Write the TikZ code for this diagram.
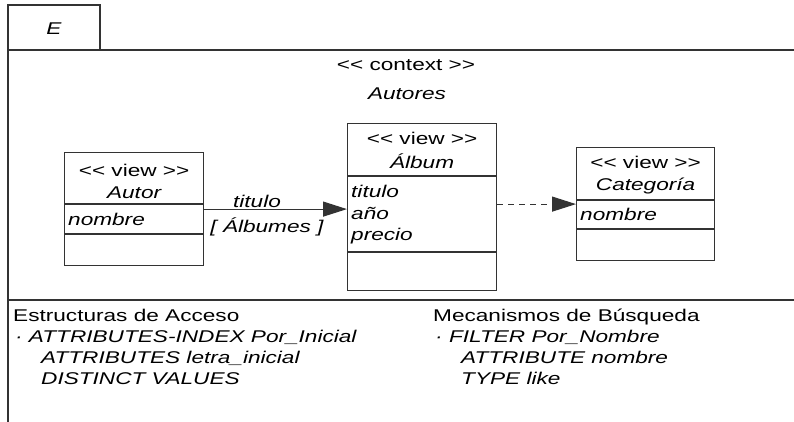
\documentclass[tikz,border=0pt]{standalone}
\usepackage{fontspec}
\usetikzlibrary{arrows.meta}
\newfontfamily\umlfont[FakeStretch=1.33,Ligatures=TeXOff]{Liberation Sans}

\tikzset{
  frame/.style={draw=black!80, line width=1.2pt},
  umlbox/.style={frame, anchor=north west, inner sep=0pt},
  txt/.style={inner sep=0pt, font=\umlfont\fontsize{17}{21}\selectfont},
  itxt/.style={inner sep=0pt, font=\umlfont\fontsize{17}{21}\selectfont\itshape},
  assoc/.style={frame, -{Triangle[length=24pt, width=15pt]}},
  depend/.style={assoc, dash pattern=on 6pt off 5pt},
}

\begin{document}
\begin{tikzpicture}[x=1pt, y=-1pt]
  \useasboundingbox (0,0) rectangle (794,422);
  % frame and tab
  \draw[frame] (8,422) -- (8,5) -- (100,5) -- (100,50);
  \draw[frame] (8,50) -- (794,50);
  \draw[frame] (8,300) -- (794,300);
  \node[itxt] (tabname) at (54,29) {E};
  \node[txt, anchor=base] (ctxst) at (406,71) {<< context >>};
  \node[itxt, anchor=base] (ctxname) at (407,100) {Autores};

  % views
  \node[umlbox, minimum width=139pt, minimum height=113pt] (autor) at (64,152) {};
  \node[umlbox, minimum width=149pt, minimum height=167pt] (album) at (347,123) {};
  \node[umlbox, minimum width=138pt, minimum height=113pt] (categoria) at (576,147) {};

  \draw[frame] ([yshift=-52pt]autor.north west) -- ([yshift=-52pt]autor.north east);
  \draw[frame] ([yshift=-82pt]autor.north west) -- ([yshift=-82pt]autor.north east);
  \draw[frame] ([yshift=-53pt]album.north west) -- ([yshift=-53pt]album.north east);
  \draw[frame] ([yshift=-129pt]album.north west) -- ([yshift=-129pt]album.north east);
  \draw[frame] ([yshift=-53pt]categoria.north west) -- ([yshift=-53pt]categoria.north east);
  \draw[frame] ([yshift=-82pt]categoria.north west) -- ([yshift=-82pt]categoria.north east);

  \node[txt, anchor=base] (autorst) at ([yshift=-24pt]autor.north) {<< view >>};
  \node[itxt, anchor=base] (autorname) at ([yshift=-46pt]autor.north) {Autor};
  \node[itxt, anchor=base west] (autorattr) at ([xshift=4pt, yshift=-73pt]autor.north west) {nombre};

  \node[txt, anchor=base] (albumst) at ([yshift=-22pt]album.north) {<< view >>};
  \node[itxt, anchor=base] (albumname) at ([yshift=-45pt]album.north) {Álbum};
  \node[itxt, anchor=base west] (albumtitulo) at ([xshift=4pt, yshift=-74pt]album.north west) {titulo};
  \node[itxt, anchor=base west] (albumano) at ([xshift=4pt, yshift=-96pt]album.north west) {año};
  \node[itxt, anchor=base west] (albumprecio) at ([xshift=4pt, yshift=-117pt]album.north west) {precio};

  \node[txt, anchor=base] (categoriast) at ([yshift=-21pt]categoria.north) {<< view >>};
  \node[itxt, anchor=base] (categorianame) at ([yshift=-43pt]categoria.north) {Categoría};
  \node[itxt, anchor=base west] (categoriaattr) at ([xshift=4pt, yshift=-73pt]categoria.north west) {nombre};

  % links
  \draw[assoc] (autor.east) -- (autor.east -| album.west);
  \node[itxt, anchor=base] (linkname) at (257,207) {titulo};
  \node[itxt, anchor=base] (linktarget) at (267,232) {[ Álbumes ]};
  \draw[depend] (album.east |- categoria.west) -- (categoria.west);

  % access structures and search mechanisms
  \node[txt, anchor=base west] (acchead) at (13,321) {Estructuras de Acceso};
  \node[itxt, anchor=base west] (acc1) at (15,342) {· ATTRIBUTES-INDEX Por\_Inicial};
  \node[itxt, anchor=base west] (acc2) at (41,363) {ATTRIBUTES letra\_inicial};
  \node[itxt, anchor=base west] (acc3) at (41,384) {DISTINCT VALUES};
  \node[txt, anchor=base west] (srchhead) at (433,321) {Mecanismos de Búsqueda};
  \node[itxt, anchor=base west] (srch1) at (435,342) {· FILTER Por\_Nombre};
  \node[itxt, anchor=base west] (srch2) at (461,363) {ATTRIBUTE nombre};
  \node[itxt, anchor=base west] (srch3) at (461,384) {TYPE like};
\end{tikzpicture}
\end{document}
